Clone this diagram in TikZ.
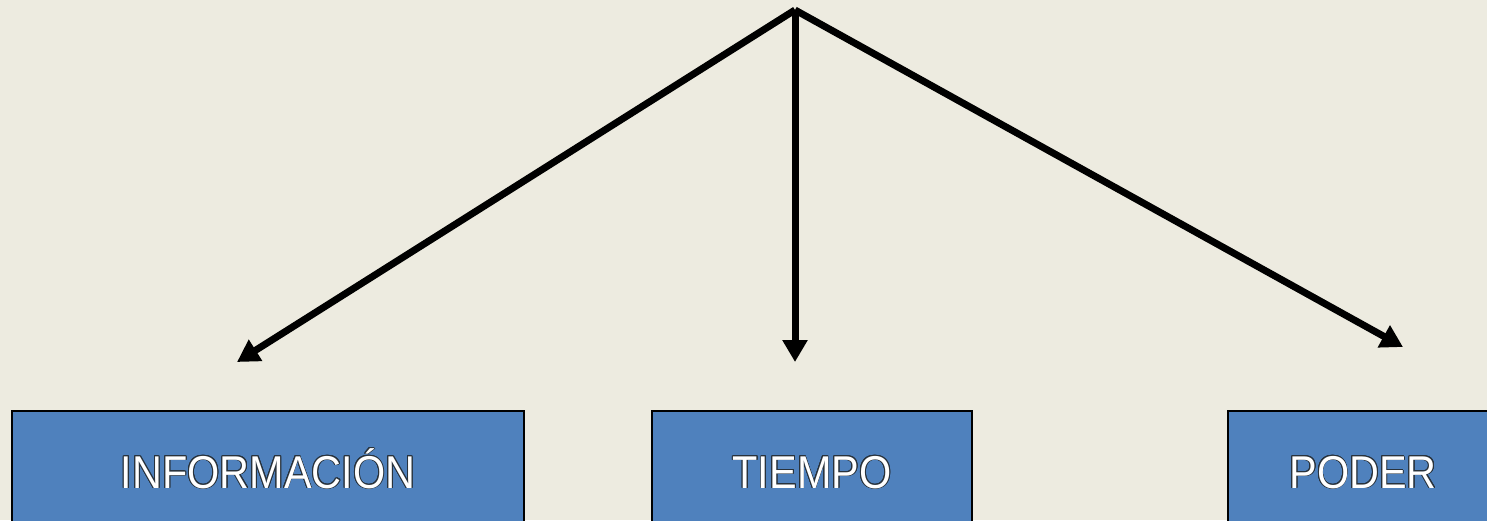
\documentclass[tikz,border=0pt]{standalone}
\usepackage{fontspec}
\setmainfont[FakeStretch=0.9]{Liberation Sans}
\usepackage{tikz}
\usetikzlibrary{arrows.meta,positioning}
\usepackage{xcolor}
\usepackage{contour}
\contourlength{0.9pt}
\definecolor{bgbeige}{RGB}{237,235,224}
\definecolor{boxblue}{RGB}{79,129,189}
\definecolor{txtedge}{RGB}{40,50,60}
\tikzstyle{arrow} = [line width=7pt,-{Triangle[length=22pt,width=24pt]},color=black]
\tikzstyle{topicbox} = [rectangle, draw=black, line width=2pt, fill=boxblue, minimum height=120pt, text=white, font=\fontsize{46}{50}\selectfont, inner sep=0pt, text height=34pt, text depth=0pt]

\begin{document}
\begin{tikzpicture}[x=1pt, y=-1pt]
\useasboundingbox (0,0) rectangle (1487,520);
\fill[bgbeige] (0,0) rectangle (1487,520);
\clip (0,0) rectangle (1487,520);

% Boxes
\node[topicbox, minimum width=512pt] (info) at (268,471) {\contour{txtedge}{INFORMACIÓN}};
\node[topicbox, minimum width=320pt] (tiempo) at (812,471) {\contour{txtedge}{TIEMPO}};
\node[topicbox, minimum width=270pt] (poder) at (1363,471) {\contour{txtedge}{PODER}};

% Arrows
\coordinate (top) at (795,10);
\coordinate (infotip) at (237,362);
\coordinate (tiempotip) at (795,362);
\coordinate (podertip) at (1403,347);
\draw[arrow] (top) -- (infotip);
\draw[arrow] (top) -- (tiempotip);
\draw[arrow] (top) -- (podertip);
\end{tikzpicture}
\end{document}
